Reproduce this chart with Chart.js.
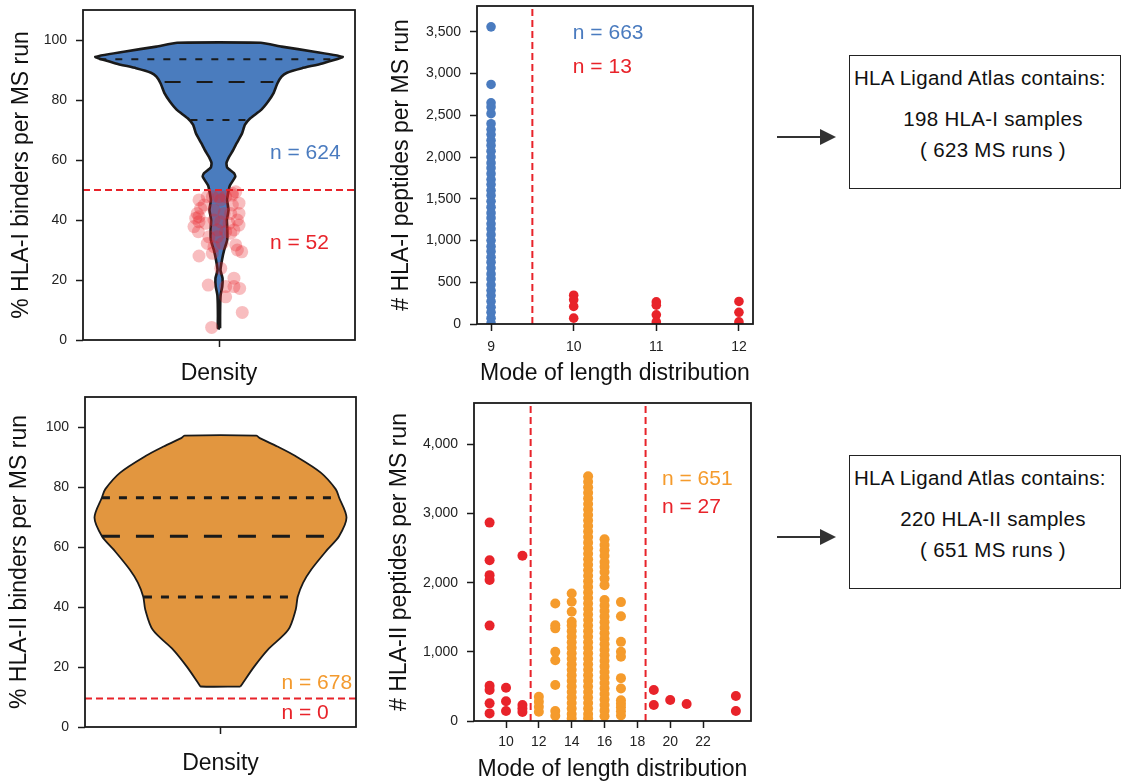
<!DOCTYPE html>
<html>
<head>
<meta charset="utf-8">
<title>HLA Ligand Atlas: binder fraction and peptide yield per MS run</title>
<script src="https://cdn.jsdelivr.net/npm/chart.js@4.4.1/dist/chart.umd.min.js"></script>
<style>
  html, body { margin: 0; padding: 0; background: #fff; }
  body { position: relative; width: 1123px; height: 784px; overflow: hidden;
         font-family: "Liberation Sans", Arial, Helvetica, sans-serif; }
  canvas { position: absolute; }
  .atlas { position: absolute; left: 849px; width: 272px; height: 134px;
           border: 1.6px solid #222; box-sizing: border-box; color: #111; font-size: 20.5px; }
  .atlas div { position: absolute; white-space: nowrap; line-height: 24px; letter-spacing: 0.3px; }
  .atlas .head { left: 4px; top: 10px; }
  .atlas .line { left: 16px; right: 0; text-align: center; }
  .atlas .l2 { top: 51px; }
  .atlas .l3 { top: 82px; }
  .arrow { position: absolute; left: 770px; width: 72px; height: 24px; }
</style>
</head>
<body>
<canvas id="violinI" width="370" height="390" style="left:0;top:0"></canvas>
<canvas id="modeI" width="400" height="390" style="left:360px;top:0"></canvas>
<canvas id="violinII" width="370" height="394" style="left:0;top:390px"></canvas>
<canvas id="modeII" width="400" height="394" style="left:360px;top:390px"></canvas>

<svg class="arrow" style="top:125px" viewBox="0 0 72 24">
  <line x1="7" y1="12" x2="52" y2="12" stroke="#333" stroke-width="2"/>
  <polygon points="50,4 66,12 50,20" fill="#333"/>
</svg>
<div class="atlas" style="top:55px">
  <div class="head">HLA Ligand Atlas contains:</div>
  <div class="line l2">198 HLA-I samples</div>
  <div class="line l3">( 623 MS runs )</div>
</div>

<svg class="arrow" style="top:525px" viewBox="0 0 72 24">
  <line x1="7" y1="12" x2="52" y2="12" stroke="#333" stroke-width="2"/>
  <polygon points="50,4 66,12 50,20" fill="#333"/>
</svg>
<div class="atlas" style="top:455px">
  <div class="head">HLA Ligand Atlas contains:</div>
  <div class="line l2">220 HLA-II samples</div>
  <div class="line l3">( 651 MS runs )</div>
</div>

<script>
// ---------- data ----------
// % predicted binders per MS run: violin outline (level, half-width in density units)
const binderTicks = [0, 20, 40, 60, 80, 100];

const hlaIViolinLevels = [3.9, 8, 12, 15, 17.8, 20.6, 23.3, 26.7, 30, 33.3, 36.7, 40, 43.3, 46.7, 50,
  51.5, 53.3, 54.5, 55.6, 57.5, 59, 61.1, 63, 65.6, 68.9, 71.7, 73.9, 76.7, 79.4, 82.2, 85.6, 87.8,
  89.1, 90.6, 92.2, 94.4, 96.1, 97.8, 99.1];
const hlaIViolinHalfWidth = [0.008, 0.008, 0.009, 0.012, 0.024, 0.026, 0.011, 0.022, 0.038, 0.06, 0.062,
  0.058, 0.07, 0.06, 0.072, 0.08, 0.105, 0.12, 0.11, 0.06, 0.055, 0.075, 0.1, 0.13, 0.17, 0.19, 0.23,
  0.31, 0.36, 0.40, 0.43, 0.46, 0.50, 0.61, 0.76, 0.91, 0.70, 0.46, 0.307];
const hlaIQuartiles = [73.3, 86.0, 93.6];
const hlaIQuartileHalfWidth = [0.21, 0.40, 0.88];
const hlaIBinderCutoff = 50;
// runs below the cutoff, drawn as jittered dots
const hlaILowJitter = [-0.147, -0.086, -0.110, 0, 0.098, 0.123, 0.098, -0.160, -0.147, -0.152, -0.037,
  0.013, 0.037, 0.147, 0.135, 0.110, 0.049, -0.013, -0.086, -0.037, -0.147, 0.123, 0.167, 0.135, 0.013,
  -0.079, 0.049, 0.110, 0.152, 0.049, 0.171, -0.054, -0.184, -0.171, -0.037, 0.074, 0.086, -0.074,
  -0.013, 0.013, -0.135, -0.098, 0.024, -0.049, 0.110, 0.098, 0.086, 0.147, -0.049, 0.049, -0.147, 0.147];
const hlaILowBinders = [46.7, 47.8, 45, 47.8, 48.9, 49.4, 45, 42.2, 39.4, 36.1, 40, 39.4, 42.2, 42.2, 40,
  36.7, 36.1, 36.7, 32.2, 31.1, 28, 31.7, 29.4, 30, 23.9, 18.3, 17.8, 20.6, 17.2, 14.4, 9.2, 4.2, 37.8,
  40.6, 43.3, 38.9, 35.6, 34.4, 34.4, 46.7, 43.9, 38.9, 32.2, 28.9, 17.8, 48.3, 42.2, 45.6, 47.8, 47.8,
  41.1, 38.3];

const hlaIIViolinLevels = [13.5, 14.2, 20.2, 25.8, 32.4, 39.1, 43.4, 48.1, 52.5, 59.2, 63.6, 69.8, 76.5,
  79.3, 84.8, 90.4, 93.5, 96.3, 97.1];
const hlaIIViolinHalfWidth = [0.147, 0.158, 0.25, 0.35, 0.50, 0.555, 0.57, 0.61, 0.67, 0.79, 0.875, 0.93,
  0.875, 0.85, 0.74, 0.55, 0.42, 0.29, 0.265];
const hlaIIQuartiles = [43.3, 63.6, 76.4];
const hlaIIQuartileHalfWidth = [0.565, 0.875, 0.875];
const hlaIIBinderCutoff = 9.5;

// # peptides per MS run grouped by the mode of the length distribution
const hlaIPeptideTicks = [0, 500, 1000, 1500, 2000, 2500, 3000, 3500];
const hlaIModeTicks = [9, 10, 11, 12];
const hlaIKeptModes = [9];
const hlaIKeptPeptides = [[3560, 2870, 2650, 2600, 2520, 2400, 2330, 2270, 2200, 2140, 2070, 2000, 1930,
  1870, 1800, 1730, 1670, 1600, 1540, 1470, 1400, 1330, 1270, 1200, 1140, 1070, 1000, 930, 870, 800, 740,
  670, 600, 540, 470, 400, 340, 270, 200, 140, 70, 10]];
const hlaIDroppedModes = [10, 11, 12];
const hlaIDroppedPeptides = [[345, 290, 210, 70], [265, 225, 110, 25], [270, 140, 25]];
const hlaIModeCutoffs = [9.5];

const hlaIIPeptideTicks = [0, 1000, 2000, 3000, 4000];
const hlaIIModeTicks = [10, 12, 14, 16, 18, 20, 22];
const hlaIIKeptModes = [12, 13, 14, 15, 16, 17];
const hlaIIKeptPeptides = [
  [350, 280, 205, 135],
  [1700, 1385, 1340, 1000, 880, 520, 145, 75],
  [1845, 1725, 1580, 1435, 1380, 1300, 1220, 1140, 1060, 980, 900, 820, 740, 660, 580, 500, 420, 340,
   260, 180, 100, 40],
  [3540, 3460, 3380, 3300, 3220, 3140, 3060, 2980, 2900, 2820, 2740, 2660, 2580, 2500, 2420, 2340, 2260,
   2180, 2100, 2020, 1940, 1860, 1780, 1700, 1620, 1540, 1460, 1380, 1300, 1220, 1140, 1060, 980, 900,
   820, 740, 660, 580, 500, 420, 340, 260, 180, 100, 40],
  [2630, 2545, 2470, 2390, 2300, 2230, 2155, 2060, 1965, 1750, 1670, 1590, 1510, 1430, 1350, 1270, 1190,
   1110, 1030, 950, 870, 790, 710, 630, 550, 470, 390, 310, 230, 150, 70],
  [1720, 1515, 1145, 1000, 930, 620, 470, 300, 250, 200, 140, 80]
];
const hlaIIDroppedModes = [9, 10, 11, 19, 20, 21, 24];
const hlaIIDroppedPeptides = [
  [2870, 2325, 2110, 2040, 1380, 510, 450, 255, 110],
  [480, 285, 145],
  [2390, 230, 180, 130],
  [448, 231],
  [303],
  [245],
  [361, 144]
];
const hlaIIModeCutoffs = [11.5, 18.5];

// ---------- styling ----------
const FONT = '"Liberation Sans", Arial, Helvetica, sans-serif';
const INK = '#1a1a1a';
const RED = '#e8232a';
const BLUE = '#4a7bbf';
const ORANGE = '#f59b2c';

// ---------- helpers ----------
const violinOutline = (levels, half) => {
  const right = levels.map((y, i) => ({x: half[i], y}));
  const left = levels.map((y, i) => ({x: -half[i], y})).reverse();
  return [...right, ...left, right[0]];
};
const columnPoints = (modes, values) => modes.flatMap((m, i) => values[i].map(v => ({x: m, y: v})));
const hLine = (y) => [{x: -1, y}, {x: 1, y}];
const vLine = (x, top) => [{x, y: 0}, {x, y: top}];

const frame = {
  id: 'frame',
  afterDatasetsDraw(chart) {
    const {ctx, chartArea: a} = chart;
    ctx.save();
    ctx.strokeStyle = INK;
    ctx.lineWidth = 1.8;
    ctx.strokeRect(a.left, a.top, a.right - a.left, a.bottom - a.top);
    ctx.restore();
  }
};
const notes = (items) => ({
  id: 'notes',
  afterDraw(chart) {
    const {ctx, scales: {x, y}} = chart;
    ctx.save();
    ctx.font = '21px ' + FONT;
    ctx.textAlign = 'left';
    ctx.textBaseline = 'middle';
    items.forEach(n => {
      ctx.fillStyle = n.color;
      ctx.fillText(n.text, x.getPixelForValue(n.x), y.getPixelForValue(n.y));
    });
    ctx.restore();
  }
});

function axis(dir, a) {
  return {
    type: 'linear',
    position: dir === 'x' ? 'bottom' : 'left',
    min: a.min, max: a.max,
    afterBuildTicks: s => { s.ticks = a.ticks.map(v => ({value: v})); },
    afterFit: s => {
      if (dir === 'x') s.height = a.size; else s.width = a.size;
      s.paddingLeft = 0; s.paddingRight = 0; s.paddingTop = 0; s.paddingBottom = 0;
    },
    border: {display: false},
    grid: {drawOnChartArea: false, drawTicks: true, tickLength: 7, tickWidth: 1.5, color: INK, tickColor: INK},
    ticks: {
      autoSkip: false, maxRotation: 0, minRotation: 0, padding: a.tickPad,
      color: '#222', font: {family: FONT, size: 14},
      callback: a.format || (v => String(v))
    },
    title: {
      display: true, text: a.title, color: '#111', font: {family: FONT, size: 23},
      padding: dir === 'x' ? {top: 0, bottom: a.titlePad} : {top: a.titlePad, bottom: 0}
    }
  };
}

function panel(id, cfg) {
  return new Chart(document.getElementById(id), {
    type: 'line',
    data: {datasets: cfg.datasets},
    options: {
      responsive: false, animation: false, events: [], devicePixelRatio: 1,
      layout: {padding: cfg.pad},
      plugins: {legend: {display: false}, tooltip: {enabled: false}},
      scales: {x: axis('x', cfg.x), y: axis('y', cfg.y)}
    },
    plugins: [frame, notes(cfg.notes)]
  });
}

const thousands = v => Number(v).toLocaleString('en-US');
const noLabel = () => '';

const violinBody = (levels, half, fill, width, tension) => ({
  data: violinOutline(levels, half), fill: 'shape', backgroundColor: fill,
  borderColor: INK, borderWidth: width, pointRadius: 0, tension, order: 5
});
const quartileLines = (qs, ws, width, shortDash, longDash) => qs.map((q, i) => ({
  data: [{x: -ws[i], y: q}, {x: ws[i], y: q}], borderColor: INK, borderWidth: width,
  borderDash: i === 1 ? longDash : shortDash, pointRadius: 0, fill: false, order: 4
}));
const cutoffLine = (data) => ({
  data, borderColor: RED, borderWidth: 2, borderDash: [7, 4], pointRadius: 0, fill: false, order: 2
});
const dots = (data, color, radius, order) => ({
  data, showLine: false, pointRadius: radius, pointBackgroundColor: color,
  pointBorderWidth: 0, clip: 0, order
});

// ---------- HLA-I: binder fraction violin ----------
panel('violinI', {
  pad: {left: 0, top: 10, right: 15, bottom: 0},
  x: {min: -1, max: 1, ticks: [0], size: 50, tickPad: 4, title: 'Density', titlePad: 2.5, format: noLabel},
  y: {min: 0, max: 110, ticks: binderTicks, size: 83, tickPad: 9, title: '% HLA-I binders per MS run', titlePad: 7.7},
  datasets: [
    dots(hlaILowJitter.map((x, i) => ({x, y: hlaILowBinders[i]})), 'rgba(232,35,42,0.3)', 6.5, 0),
    cutoffLine(hLine(hlaIBinderCutoff)),
    ...quartileLines(hlaIQuartiles, hlaIQuartileHalfWidth, 2, [7, 9], [16, 16]),
    violinBody(hlaIViolinLevels, hlaIViolinHalfWidth, '#4a7cbe', 2.6, 0.15)
  ],
  notes: [
    {text: 'n = 624', color: BLUE, x: 0.375, y: 62.3},
    {text: 'n = 52', color: RED, x: 0.375, y: 32.3}
  ]
});

// ---------- HLA-I: peptides vs length mode ----------
panel('modeI', {
  pad: {left: 0, top: 6, right: 7, bottom: 0},
  x: {min: 8.83, max: 12.17, ticks: hlaIModeTicks, size: 66, tickPad: 7.5, title: 'Mode of length distribution', titlePad: 2.5},
  y: {min: 0, max: 3810, ticks: hlaIPeptideTicks, size: 117, tickPad: 9, title: '# HLA-I peptides per MS run', titlePad: 28.2, format: thousands},
  datasets: [
    dots(columnPoints(hlaIKeptModes, hlaIKeptPeptides), BLUE, 4.8, 1),
    dots(columnPoints(hlaIDroppedModes, hlaIDroppedPeptides), RED, 4.8, 1),
    ...hlaIModeCutoffs.map(c => cutoffLine(vLine(c, 3810)))
  ],
  notes: [
    {text: 'n = 663', color: BLUE, x: 9.99, y: 3489},
    {text: 'n = 13', color: RED, x: 9.99, y: 3081}
  ]
});

// ---------- HLA-II: binder fraction violin ----------
panel('violinII', {
  pad: {left: 0, top: 7, right: 14, bottom: 0},
  x: {min: -1, max: 1, ticks: [0], size: 57, tickPad: 4, title: 'Density', titlePad: 6.5, format: noLabel},
  y: {min: 0, max: 110, ticks: binderTicks, size: 85, tickPad: 9, title: '% HLA-II binders per MS run', titlePad: 6.2},
  datasets: [
    cutoffLine(hLine(hlaIIBinderCutoff)),
    ...quartileLines(hlaIIQuartiles, hlaIIQuartileHalfWidth, 3, [8, 9], [18, 16]),
    violinBody(hlaIIViolinLevels, hlaIIViolinHalfWidth, '#e2963f', 1.8, 0.3)
  ],
  notes: [
    {text: 'n = 678', color: '#f39a2e', x: 0.45, y: 14.7},
    {text: 'n = 0', color: RED, x: 0.45, y: 4.7}
  ]
});

// ---------- HLA-II: peptides vs length mode ----------
panel('modeII', {
  pad: {left: 0, top: 13, right: 9, bottom: 0},
  x: {min: 8.05, max: 24.92, ticks: hlaIIModeTicks, size: 63, tickPad: 6, title: 'Mode of length distribution', titlePad: 0.2},
  y: {min: 0, max: 4600, ticks: hlaIIPeptideTicks, size: 114, tickPad: 9, title: '# HLA-II peptides per MS run', titlePad: 26.2, format: thousands},
  datasets: [
    dots(columnPoints(hlaIIKeptModes, hlaIIKeptPeptides), ORANGE, 5, 1),
    dots(columnPoints(hlaIIDroppedModes, hlaIIDroppedPeptides), RED, 5, 1),
    ...hlaIIModeCutoffs.map(c => cutoffLine(vLine(c, 4600)))
  ],
  notes: [
    {text: 'n = 651', color: ORANGE, x: 19.5, y: 3495},
    {text: 'n = 27', color: RED, x: 19.5, y: 3090}
  ]
});
</script>
</body>
</html>
